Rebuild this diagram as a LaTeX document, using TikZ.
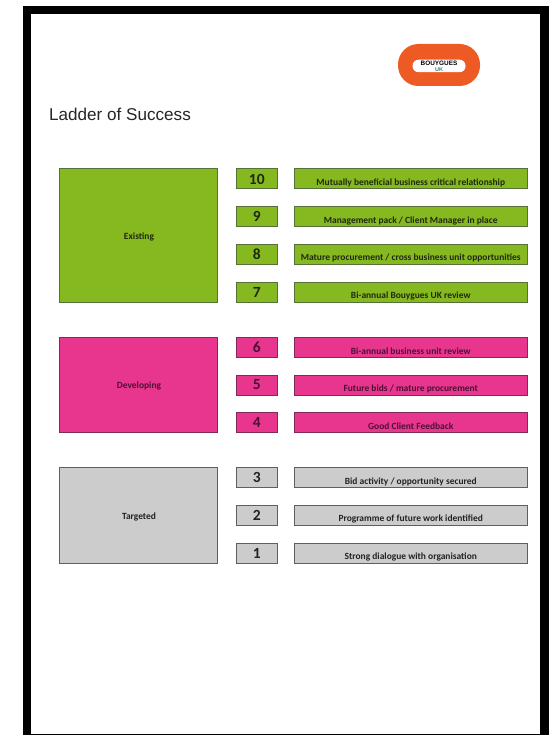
\documentclass[tikz,border=0pt]{standalone}
\usepackage{fontspec}
\setmainfont{Carlito}
\newfontfamily\titlefont{Liberation Sans}
\newfontfamily\logofont{Liberation Sans}
\definecolor{grn}{HTML}{86B81F}
\definecolor{grnb}{HTML}{56703A}
\definecolor{pnk}{HTML}{E8368F}
\definecolor{pnkb}{HTML}{7F2A58}
\definecolor{gry}{HTML}{CCCCCC}
\definecolor{gryb}{HTML}{5F5F5F}
\definecolor{org}{HTML}{EE5A24}
\definecolor{lgr}{HTML}{2E8B6E}
\definecolor{pnkt}{HTML}{4C1034}
\definecolor{grnt}{HTML}{1E2A10}
\definecolor{gryt}{HTML}{222222}
\tikzset{
  x=1pt,y=-1pt,
  box/.style={draw,line width=1pt,inner sep=0pt,anchor=north west,font=\bfseries},
  numbox/.style={box,minimum width=40.5pt,minimum height=20pt,font=\bfseries\fontsize{15.5}{15.5}\selectfont},
  itembox/.style={box,minimum width=232.5pt,minimum height=20pt},
  bigbox/.style={box,minimum width=157.5pt},
  lab/.style={font=\bfseries\fontsize{9.45}{10}\selectfont},
  green/.style={fill=grn,draw=grnb,text=grnt},
  pink/.style={fill=pnk,draw=pnkb,text=pnkt},
  grey/.style={fill=gry,draw=gryb,text=gryt},
}
\newcommand{\rowitem}[5]{%
  \node[numbox,#2] (n#1) at (236,#3) {#1};
  \node[itembox,#2] (t#1) at (294,#3) {};
  \node[lab,text=#4] (l#1) at ([yshift=-3.9pt]t#1.center) {#5};
}
\begin{document}
\begin{tikzpicture}
\useasboundingbox (0,0) rectangle (552,735);
\fill[white] (0,0) rectangle (552,735);
% page frame
\fill[black] (23,6) rectangle (549,735);
\fill[white] (31,14) rectangle (540,734);
% logo
\node[draw=none,fill=org,rounded corners=20.5pt,minimum width=82pt,minimum height=42pt,inner sep=0pt] (logo) at (439,65) {};
\node[fill=white,rounded corners=6pt,minimum width=53pt,minimum height=12.5pt,inner sep=0pt] (logoin) at (439,66) {};
\node[font=\logofont\bfseries\fontsize{6.4}{6.4}\selectfont,inner sep=0pt,text=black] (logot) at (439,63.5) {BOUYGUES};
\node[font=\logofont\bfseries\fontsize{5.5}{5.5}\selectfont,inner sep=0pt,text=lgr] (logou) at (439,69.3) {UK};
% title
\node[font=\titlefont\fontsize{17.1}{18}\selectfont,anchor=west,inner sep=0pt,text=black!85] (title) at (49,114.5) {Ladder of Success};
% groups
\node[bigbox,green,minimum height=133pt] (existing) at (59,168.5) {};
\node[lab,text=grnt] (existingl) at (139,236.8) {Existing};
\node[bigbox,pink,minimum height=95pt] (developing) at (59,336.5) {};
\node[lab,text=pnkt] (developingl) at (139,385.8) {Developing};
\node[bigbox,grey,minimum height=95.5pt] (targeted) at (59,467) {};
\node[lab,text=gryt] (targetedl) at (139,516.8) {Targeted};
% rows
\rowitem{10}{green}{168.5}{grnt}{Mutually beneficial business critical relationship}
\rowitem{9}{green}{206.3}{grnt}{Management pack / Client Manager in place}
\rowitem{8}{green}{244}{grnt}{Mature procurement / cross business unit opportunities}
\rowitem{7}{green}{281.8}{grnt}{Bi-annual Bouygues UK review}
\rowitem{6}{pink}{336.7}{pnkt}{Bi-annual business unit review}
\rowitem{5}{pink}{374.5}{pnkt}{Future bids / mature procurement}
\rowitem{4}{pink}{412.2}{pnkt}{Good Client Feedback}
\rowitem{3}{grey}{467.2}{gryt}{Bid activity / opportunity secured}
\rowitem{2}{grey}{505}{gryt}{Programme of future work identified}
\rowitem{1}{grey}{543}{gryt}{Strong dialogue with organisation}
\end{tikzpicture}
\end{document}
